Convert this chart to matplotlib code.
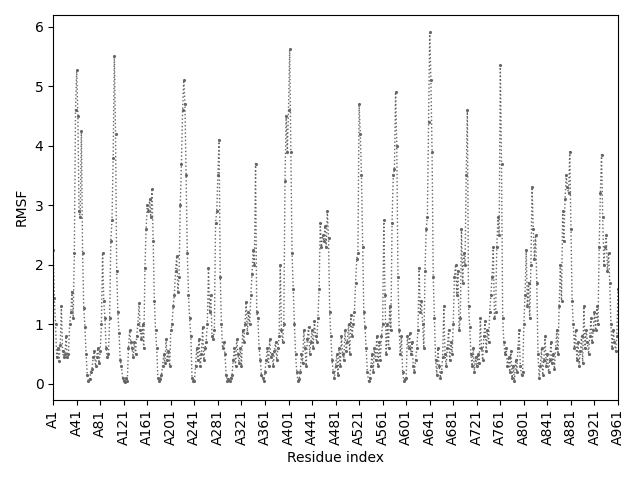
import numpy as np
import matplotlib
matplotlib.use("Agg")
import matplotlib.pyplot as plt

# RMSF values sampled every second residue (residue index 0, 2, 4, ... 960)
rmsf_000_038 = [2.25, 1.45, 1.0, 0.45, 0.6, 0.38, 0.65, 1.3, 0.55, 0.45,
                0.5, 0.8, 0.45, 0.5, 1.0, 1.2, 1.55, 1.1, 2.2, 4.6]
rmsf_040_078 = [5.27, 4.5, 2.9, 2.8, 4.25, 2.2, 1.28, 0.95, 0.5, 0.15,
                0.05, 0.08, 0.2, 0.25, 0.45, 0.55, 0.3, 0.45, 0.6, 0.35]
rmsf_080_118 = [0.55, 1.0, 2.2, 1.4, 1.1, 0.6, 0.45, 0.5, 1.1, 2.4,
                2.75, 3.8, 5.5, 4.2, 1.9, 1.2, 0.85, 0.4, 0.3, 0.1]
rmsf_120_158 = [0.05, 0.03, 0.1, 0.05, 0.6, 0.9, 0.7, 0.6, 0.45, 0.7,
                0.5, 0.8, 1.0, 1.35, 0.9, 0.75, 1.0, 0.6, 1.95, 2.6]
rmsf_160_198 = [3.0, 2.9, 3.1, 2.8, 3.28, 2.4, 1.4, 0.9, 0.6, 0.1,
                0.05, 0.08, 0.15, 0.3, 0.5, 0.35, 0.75, 0.4, 0.55, 0.3]
rmsf_200_238 = [0.9, 1.0, 1.3, 1.5, 1.9, 2.15, 1.55, 1.8, 3.0, 3.7,
                4.6, 5.1, 4.7, 3.5, 2.2, 1.5, 1.1, 0.8, 0.1, 0.05]
rmsf_240_278 = [0.05, 0.3, 0.6, 0.4, 0.75, 0.3, 0.5, 0.95, 0.4, 0.6,
                0.7, 1.0, 1.95, 1.2, 1.5, 0.8, 0.75, 0.9, 2.7, 2.9]
rmsf_280_318 = [3.5, 4.1, 1.8, 1.0, 0.6, 0.7, 0.5, 0.15, 0.05, 0.08,
                0.05, 0.1, 0.15, 0.4, 0.6, 0.3, 0.75, 0.5, 0.35, 0.6]
rmsf_320_358 = [0.3, 0.9, 0.7, 1.0, 1.38, 0.85, 1.2, 1.0, 1.5, 1.85,
                2.25, 2.0, 3.7, 1.2, 1.1, 0.6, 0.4, 0.15, 0.1, 0.05]
rmsf_360_398 = [0.2, 0.4, 0.6, 0.3, 0.75, 0.45, 0.5, 0.3, 0.55, 0.7,
                0.4, 0.6, 0.8, 2.0, 0.9, 0.7, 1.0, 3.4, 4.5, 3.9]
rmsf_400_438 = [4.6, 5.62, 3.9, 2.2, 1.6, 1.0, 0.5, 0.2, 0.05, 0.08,
                0.2, 0.5, 0.35, 0.9, 0.6, 0.3, 0.75, 0.95, 0.5, 0.7]
rmsf_440_478 = [0.9, 0.6, 1.05, 0.8, 0.7, 1.1, 1.6, 2.7, 2.3, 2.5,
                2.4, 2.65, 2.3, 2.9, 2.45, 1.2, 0.8, 0.4, 0.2, 0.1]
rmsf_480_518 = [0.3, 0.5, 0.15, 0.6, 0.3, 0.8, 0.5, 0.4, 0.9, 0.55,
                0.7, 1.0, 0.5, 1.15, 0.8, 1.0, 1.2, 1.7, 2.1, 2.2]
rmsf_520_558 = [4.7, 4.2, 3.5, 2.3, 1.2, 0.95, 0.6, 0.2, 0.05, 0.1,
                0.3, 0.5, 0.2, 0.6, 0.4, 0.8, 0.3, 0.7, 0.4, 0.8]
rmsf_560_598 = [1.0, 2.75, 1.5, 0.5, 1.0, 0.6, 1.3, 0.9, 2.7, 3.5,
                3.6, 4.9, 4.0, 1.8, 0.9, 0.5, 0.8, 0.2, 0.05, 0.08]
rmsf_600_638 = [0.1, 0.8, 0.6, 0.85, 0.5, 0.7, 0.3, 0.2, 0.4, 0.6,
                0.9, 1.95, 1.2, 1.4, 1.0, 0.6, 1.9, 2.6, 2.8, 4.4]
rmsf_640_678 = [5.9, 5.1, 3.9, 1.8, 1.1, 0.4, 0.15, 0.6, 0.3, 0.1,
                0.2, 0.45, 1.3, 0.5, 0.3, 0.6, 0.9, 0.4, 0.7, 0.5]
rmsf_680_718 = [1.0, 1.8, 2.0, 1.5, 1.9, 0.9, 1.1, 2.6, 1.7, 2.2,
                2.0, 3.5, 4.6, 1.3, 0.95, 0.5, 0.3, 0.6, 0.2, 0.45]
rmsf_720_758 = [0.3, 0.5, 0.35, 1.1, 0.6, 0.4, 0.8, 1.05, 0.55, 0.9,
                0.7, 1.2, 1.5, 1.8, 2.3, 1.1, 1.2, 2.3, 2.8, 2.5]
rmsf_760_798 = [5.35, 3.7, 1.1, 0.7, 0.5, 0.6, 0.3, 0.45, 0.2, 0.55,
                0.1, 0.3, 0.05, 0.4, 0.2, 0.6, 0.9, 0.3, 0.15, 0.2]
rmsf_800_838 = [1.0, 1.5, 2.25, 1.3, 1.7, 1.1, 2.0, 3.3, 2.6, 2.1,
                2.5, 1.7, 0.5, 0.1, 0.3, 0.6, 0.15, 0.4, 0.8, 0.3]
rmsf_840_878 = [0.5, 0.2, 0.4, 0.7, 0.35, 0.5, 0.25, 0.6, 0.9, 0.5,
                1.3, 2.0, 1.4, 2.9, 2.4, 3.1, 3.5, 3.3, 3.2, 3.9]
rmsf_880_918 = [2.6, 1.4, 1.0, 0.6, 0.9, 0.4, 0.7, 0.3, 0.55, 0.8,
                0.35, 1.3, 0.6, 0.9, 0.7, 0.5, 0.8, 1.1, 0.7, 0.9]
rmsf_920_960 = [1.2, 0.9, 1.3, 1.0, 2.3, 3.2, 3.85, 2.8, 2.0, 2.3,
                2.5, 1.9, 2.2, 1.7, 1.0, 0.6, 0.9, 0.7, 0.55, 0.8, 1.6]

tick_labels = ["A1", "A41", "A81", "A121", "A161", "A201", "A241", "A281",
               "A321", "A361", "A401", "A441", "A481", "A521", "A561",
               "A601", "A641", "A681", "A721", "A761", "A801", "A841",
               "A881", "A921", "A961"]

rmsf = np.array(rmsf_000_038 + rmsf_040_078 + rmsf_080_118 + rmsf_120_158 +
                rmsf_160_198 + rmsf_200_238 + rmsf_240_278 + rmsf_280_318 +
                rmsf_320_358 + rmsf_360_398 + rmsf_400_438 + rmsf_440_478 +
                rmsf_480_518 + rmsf_520_558 + rmsf_560_598 + rmsf_600_638 +
                rmsf_640_678 + rmsf_680_718 + rmsf_720_758 + rmsf_760_798 +
                rmsf_800_838 + rmsf_840_878 + rmsf_880_918 + rmsf_920_960)
residue = np.arange(0, 2 * len(rmsf), 2)

fig, ax = plt.subplots(figsize=(6.4, 4.8), dpi=100)
ax.plot(residue, rmsf, linestyle=':', marker='.', markersize=2.5,
        linewidth=1.0, color='#666666')
ax.set_xlim(0, 960)
ax.set_xticks(np.arange(0, 961, 40))
ax.set_xticklabels(tick_labels, rotation=90)
ax.set_xlabel("Residue index")
ax.set_ylabel("RMSF")
fig.tight_layout()
fig.savefig("out.png", dpi=100)
